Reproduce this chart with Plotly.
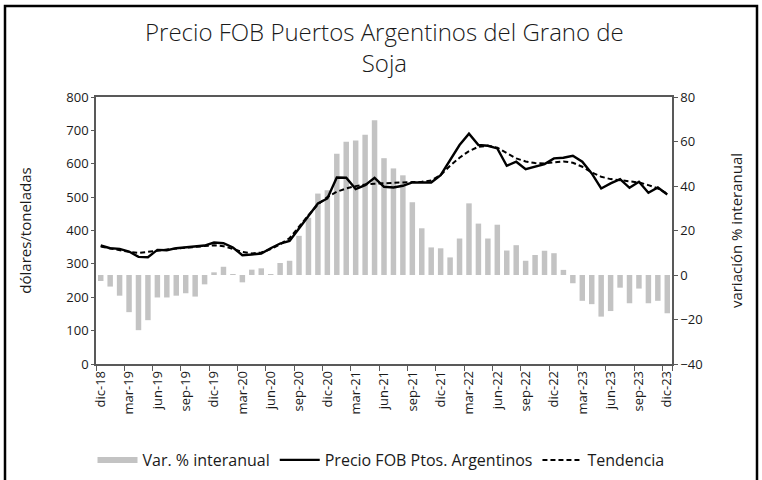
import plotly.graph_objects as go

# Monthly categories dic-18 .. dic-23
month_names = ["ene", "feb", "mar", "abr", "may", "jun",
               "jul", "ago", "sep", "oct", "nov", "dic"]
months = ["dic-18"] + [f"{m}-{y}" for y in range(19, 24) for m in month_names]

# Year-on-year change (%), right axis
var_interanual = [
    -2.7, -5.2, -9.3, -16.7, -24.8, -20.3, -10.1, -10.1, -9.3, -8.2, -9.7, -4.2,
    1.2, 3.7, 0.2, -3.3, 2.4, 3.0, 0.1, 5.4, 6.4, 17.6, 25.7, 36.6,
    38.1, 54.5, 59.9, 60.5, 63.0, 69.6, 52.5, 47.9, 44.8, 32.7, 21.0, 12.4,
    12.0, 7.9, 16.4, 32.2, 23.1, 16.4, 22.6, 11.0, 13.4, 6.4, 9.0, 10.9,
    9.8, 2.3, -3.7, -11.6, -13.1, -18.7, -16.2, -5.7, -12.7, -6.1, -12.7, -11.6,
    -17.2,
]

# FOB price, USD per tonne (left axis)
precio_fob = [
    355, 347, 345, 337, 321, 320, 342, 341, 347, 350, 352, 355,
    364, 362, 349, 326, 328, 331, 347, 361, 369, 407, 444, 481,
    496, 559, 558, 524, 536, 558, 531, 529, 534, 544, 544, 544,
    566, 611, 656, 690, 656, 654, 646, 594, 606, 584, 591, 599,
    616, 618, 624, 606, 571, 526, 541, 554, 528, 546, 513, 529,
    508,
]

# Trend of the FOB price
tendencia = [
    352, 346, 341, 336, 333, 335, 339, 343, 346, 349, 351, 354,
    356, 353, 345, 336, 331, 334, 344, 359, 377, 413, 446, 478,
    500, 516, 526, 533, 538, 540, 542, 543, 544, 545, 546, 550,
    566, 594, 618, 638, 651, 654, 648, 632, 616, 607, 602, 601,
    605, 607, 603, 591, 574, 561, 554, 551, 548, 544, 536, 526,
    510,
]

tick_labels = months[::3]
title_text = "Precio FOB Puertos Argentinos del Grano de<br>Soja"

FONT = "Open Sans"
AXIS_COLOR = "#595959"
TEXT_COLOR = "#1a1a1a"
BAR_COLOR = "#C3C3C3"

W, H = 762, 480
M_L, M_R, M_T, M_B = 96, 90, 97, 116
plot_w = W - M_L - M_R
plot_h = H - M_T - M_B


def px_x(px):
    return (px - M_L) / plot_w


def px_y(py):
    return (H - M_B - py) / plot_h


fig = go.Figure()

fig.add_trace(go.Bar(
    x=months, y=var_interanual, name="Var. % interanual",
    marker=dict(color=BAR_COLOR, line=dict(width=0)),
    yaxis="y", showlegend=False,
))
# legend entry drawn as a wide grey band
fig.add_trace(go.Scatter(
    x=[None], y=[None], mode="lines", name="Var. % interanual",
    line=dict(color=BAR_COLOR, width=6), yaxis="y",
))
fig.add_trace(go.Scatter(
    x=months, y=precio_fob, mode="lines", name="Precio FOB Ptos. Argentinos",
    line=dict(color="#000000", width=2.4), yaxis="y2",
))
fig.add_trace(go.Scatter(
    x=months, y=tendencia, mode="lines", name="Tendencia",
    line=dict(color="#000000", width=2, dash="5px,3px"), yaxis="y2",
))

fig.update_layout(
    width=W, height=H,
    margin=dict(l=M_L, r=M_R, t=M_T, b=M_B),
    paper_bgcolor="white", plot_bgcolor="white",
    font=dict(family=FONT, color=TEXT_COLOR, size=13),
    bargap=0.42,
    xaxis=dict(
        type="category", categoryorder="array", categoryarray=months,
        tickmode="array", tickvals=tick_labels, ticktext=tick_labels,
        tickson="boundaries", ticks="outside", ticklen=5, tickcolor=AXIS_COLOR,
        tickangle=-90, tickfont=dict(size=13),
        showline=True, linecolor=AXIS_COLOR, linewidth=1.5, mirror=True,
        showgrid=False, zeroline=False,
    ),
    yaxis=dict(
        side="right", range=[-40, 80], dtick=20,
        ticks="outside", ticklen=4, tickcolor=AXIS_COLOR,
        showline=True, linecolor=AXIS_COLOR, linewidth=1.5,
        showgrid=False, zeroline=False, tickfont=dict(size=13),
        title=dict(text="variación % interanual", font=dict(size=15), standoff=30),
    ),
    yaxis2=dict(
        side="left", overlaying="y", range=[0, 800], dtick=100,
        ticks="outside", ticklen=3, tickcolor=AXIS_COLOR,
        showline=True, linecolor=AXIS_COLOR, linewidth=1.5,
        showgrid=False, zeroline=False, tickfont=dict(size=13),
        title=dict(text="dólares/toneladas", font=dict(size=15), standoff=31),
    ),
    legend=dict(
        orientation="h", x=0.5, xanchor="center", xref="container",
        y=20 / 480, yref="container", yanchor="middle",
        font=dict(size=16), itemwidth=40, traceorder="normal",
    ),
)

# chart title, two lines centred over the plot
fig.add_annotation(
    text=title_text, xref="paper", yref="paper",
    x=0.5, y=px_y(47), xanchor="center", yanchor="middle",
    showarrow=False, align="center",
    font=dict(family=FONT, size=24, color=TEXT_COLOR, weight=300),
)

# outer frame around the whole graphic
fig.add_shape(
    type="rect", xref="paper", yref="paper",
    x0=px_x(5), x1=px_x(757), y0=px_y(495), y1=px_y(6),
    line=dict(color="#000000", width=2.5), fillcolor="rgba(0,0,0,0)",
    layer="above",
)

fig.write_html("out.html")
